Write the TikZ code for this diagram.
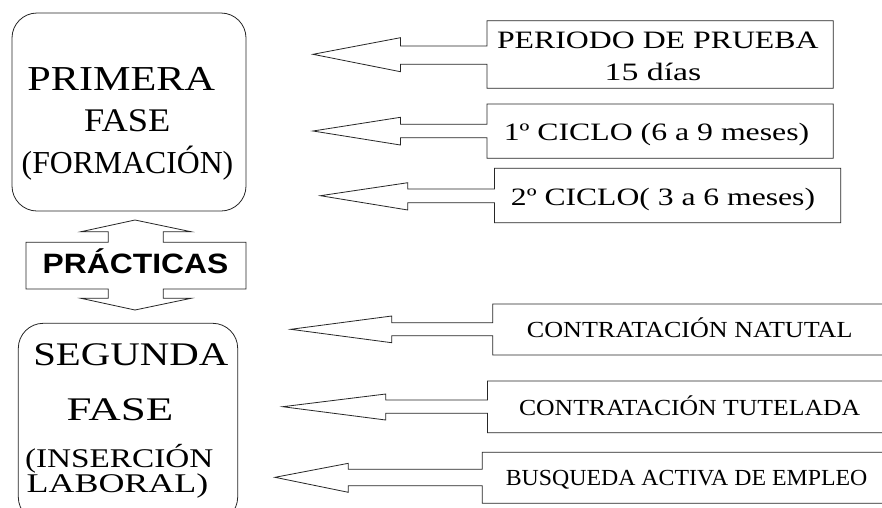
\documentclass[tikz,border=0pt]{standalone}
\usepackage{graphicx}
\usepackage{fontspec}
\setmainfont{Liberation Serif}
\newfontfamily\arialfont{Liberation Sans}
\newcommand\sztxt[3]{\fontsize{#1}{#1}\selectfont\scalebox{#2}[1]{#3}}
\begin{document}
\begin{tikzpicture}[x=1pt,y=-1pt,
  outline/.style={draw=black!85, line width=0.8pt, line join=miter},
  lbl/.style={anchor=base, inner sep=0pt, outer sep=0pt, text=black}]
\useasboundingbox (0,0) rectangle (882,507);
\fill[white] (0,0) rectangle (882,507);
\clip (0,0) rectangle (882,507);

% phase boxes
\draw[outline, rounded corners=25pt] (12,13) rectangle (246,211);
\draw[outline, rounded corners=25pt] (18.3,323.3) rectangle (237.7,522);

\node[lbl] (pri) at (121.2,90) {\sztxt{35}{1.206}{PRIMERA}};
\node[lbl] (fas1) at (127.2,131.7) {\sztxt{33}{1.103}{FASE}};
\node[lbl] (form) at (127.5,173.3) {\sztxt{32}{0.992}{(FORMACIÓN)}};

\node[lbl] (seg) at (130.8,365) {\sztxt{33}{1.237}{SEGUNDA}};
\node[lbl] (fas2) at (120,420) {\sztxt{33}{1.363}{FASE}};
\node[lbl] (ins) at (119.2,467.3) {\sztxt{27}{1.231}{(INSERCIÓN}};
\node[lbl] (lab) at (117.5,492.7) {\sztxt{27}{1.331}{LABORAL)}};

% practicas double arrow
\draw[outline] (135,220) -- (191,231.7) -- (163.3,231.7) -- (163.3,242.3)
  -- (246,242.3) -- (246,289) -- (163.3,289) -- (163.3,298.3) -- (191,298.3)
  -- (135,310) -- (81,298.3) -- (108.3,298.3) -- (108.3,289) -- (26,289)
  -- (26,242.3) -- (108.3,242.3) -- (108.3,231.7) -- (81,231.7) -- cycle;
\node[lbl] (prac) at (135.5,273.3) {\arialfont\bfseries\sztxt{28}{1.137}{PRÁCTICAS}};

% callouts
\draw[outline] (487,20.7) -- (833.3,20.7) -- (833.3,88.3) -- (487,88.3) -- (487,64.3)
  -- (400.4,64.3) -- (400.4,71.7) -- (313,54.3) -- (400.4,37.7) -- (400.4,46) -- (487,46) -- cycle;
\draw[outline] (487,104) -- (833.3,104) -- (833.3,158.3) -- (487,158.3) -- (487,137.7)
  -- (400.4,137.7) -- (400.4,145) -- (313,131) -- (400.4,117.3) -- (400.4,124.3) -- (487,124.3) -- cycle;
\draw[outline] (494.4,168.3) -- (840.7,168.3) -- (840.7,222.7) -- (494.4,222.7) -- (494.4,202.7)
  -- (407.8,202.7) -- (407.8,210) -- (320.4,195.7) -- (407.8,182.7) -- (407.8,189) -- (494.4,189) -- cycle;
\draw[outline] (492.7,304) -- (900,304) -- (900,355) -- (492.7,355) -- (492.7,335.7)
  -- (391.7,335.7) -- (391.7,342.7) -- (290.7,329.3) -- (391.7,316) -- (391.7,322.7) -- (492.7,322.7) -- cycle;
\draw[outline] (487.5,381) -- (900,381) -- (900,432.7) -- (487.5,432.7) -- (487.5,413.3)
  -- (385.7,413.3) -- (385.7,420) -- (282.7,406.7) -- (385.7,394) -- (385.7,400) -- (487.5,400) -- cycle;
\draw[outline] (482.3,452.3) -- (900,452.3) -- (900,503.3) -- (482.3,503.3) -- (482.3,485.7)
  -- (348.3,485.7) -- (348.3,492.3) -- (275,477.3) -- (348.3,463.3) -- (348.3,469.3) -- (482.3,469.3) -- cycle;

\node[lbl] (per) at (657.8,48.3) {\sztxt{25}{1.272}{PERIODO DE PRUEBA}};
\node[lbl] (dias) at (653,80) {\sztxt{25}{1.352}{15 días}};
\node[lbl] (c1) at (656.5,140) {\sztxt{25}{1.271}{1º CICLO (6 a 9 meses)}};
\node[lbl] (c2) at (663,205) {\sztxt{25}{1.265}{2º CICLO( 3 a 6 meses)}};
\node[lbl] (cn) at (689.7,337.3) {\sztxt{23}{1.134}{CONTRATACIÓN NATUTAL}};
\node[lbl] (ct) at (689.6,415) {\sztxt{23}{1.117}{CONTRATACIÓN TUTELADA}};
\node[lbl] (bu) at (686.6,485.7) {\sztxt{23}{1.036}{BUSQUEDA ACTIVA DE EMPLEO}};
\end{tikzpicture}
\end{document}
